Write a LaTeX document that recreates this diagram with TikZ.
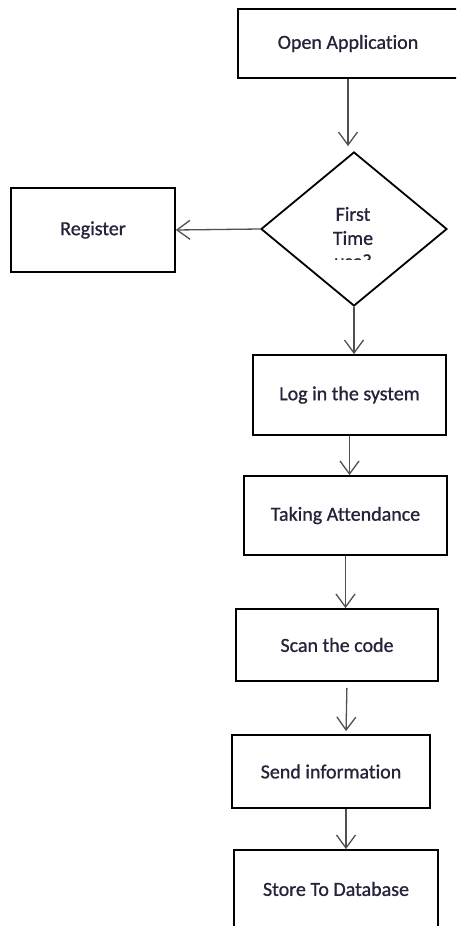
\documentclass[tikz,border=0pt]{standalone}
\usepackage{fontspec}
\setmainfont{Carlito}[Ligatures={NoCommon}]
\newfontfamily\boxfont{Carlito}[Ligatures={NoCommon},FakeBold=0.8]
\usetikzlibrary{shapes.geometric,arrows.meta}
\definecolor{txtcol}{RGB}{35,35,58}
\definecolor{arrcol}{RGB}{80,80,80}
\tikzset{
  box/.style={draw=black, line width=1.8pt, rectangle, inner sep=0pt, text=txtcol,
    font=\boxfont\fontsize{20}{24}\selectfont, align=center},
  dec/.style={draw=black, line width=1.8pt, diamond, inner sep=0pt,
    minimum width=186pt, minimum height=154pt},
  txt/.style={text=txtcol, font=\boxfont\fontsize{20}{24}\selectfont, align=center, inner sep=0pt},
  arr/.style={draw=arrcol, line width=1.3pt, -{Straight Barb[length=13pt,width=19pt,line width=1.3pt]}}
}
\begin{document}
\begin{tikzpicture}[x=1pt,y=-1pt]
\useasboundingbox (0,0) rectangle (456,926);
\clip (0,0) rectangle (456,926);
\fill[white] (0,0) rectangle (456,926);
% boxes
\node[box, minimum width=220pt, minimum height=69pt] (open) at (348,43.5) {Open Application};
\node[dec] (first) at (354,229) {};
\node[txt] (firsttxt) at (353,226) {First\\Time};
\begin{scope}
  \clip (300,245) rectangle (400,259.5);
  \node[txt, anchor=base] (usetxt) at (353,268) {use?};
\end{scope}
\node[box, minimum width=164pt, minimum height=84pt] (reg) at (93,230) {Register};
\node[box, minimum width=193pt, minimum height=80pt] (login) at (349.5,395) {Log in the system};
\node[box, minimum width=203pt, minimum height=79pt] (take) at (345.5,515.5) {Taking Attendance};
\node[box, minimum width=202pt, minimum height=72pt] (scan) at (337,645) {Scan the code};
\node[box, minimum width=198pt, minimum height=73pt] (send) at (331,771.5) {Send information};
\node[box, minimum width=204pt, minimum height=78pt] (store) at (336,889) {Store To Database};
% connectors
\draw[arr, shorten >=5pt] (open.south) -- (open.south |- first.north);
\draw[arr] (first.west) -- (reg.east);
\draw[arr] (first.south) -- (first.south |- login.north);
\draw[arr] (login.south) -- (login.south |- take.north);
\draw[arr] (take.south) -- (take.south |- scan.north);
\draw[arr, shorten <=6pt, shorten >=3pt] ([xshift=10pt]scan.south) -- ([xshift=15pt]send.north);
\draw[arr] ([xshift=15pt]send.south) -- ([xshift=10pt]store.north);
\end{tikzpicture}
\end{document}
